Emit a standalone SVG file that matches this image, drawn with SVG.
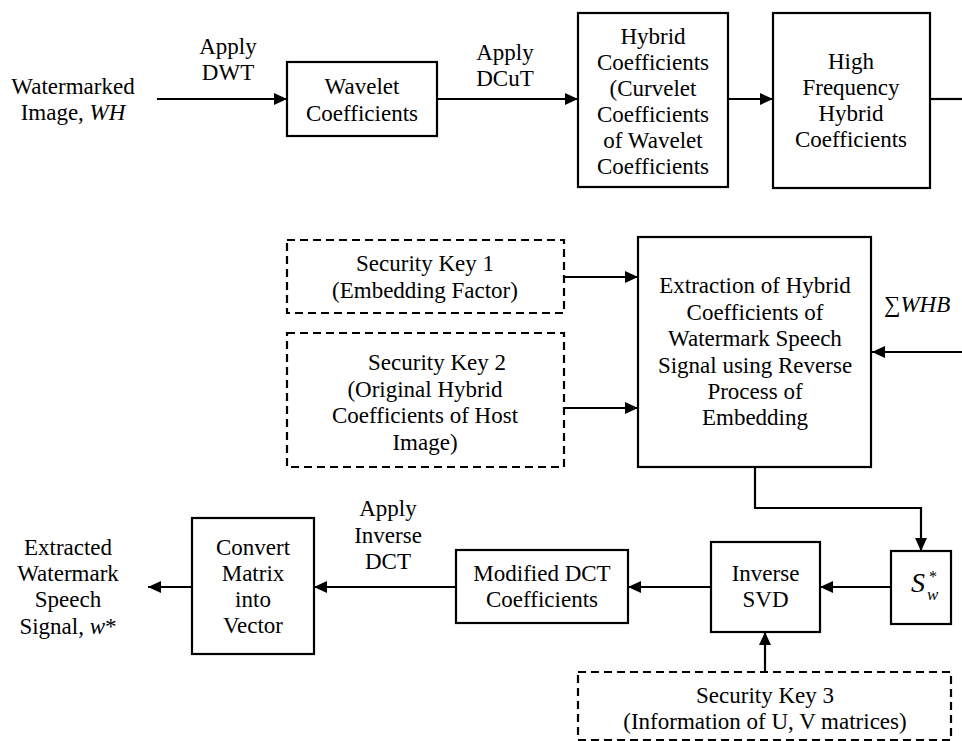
<svg xmlns="http://www.w3.org/2000/svg" width="962" height="741" viewBox="0 0 962 741" font-family="'Liberation Serif', Tinos, 'Times New Roman', Times, 'DejaVu Serif', serif">
<style>
  text { font-family: 'Liberation Serif', Tinos, 'Times New Roman', Times, 'DejaVu Serif', serif; font-size: 23px; fill: #000; text-anchor: middle; }
  .it { font-style: italic; }
  .box { fill: #fff; stroke: #000; stroke-width: 2.2; }
  .dash { fill: #fff; stroke: #000; stroke-width: 2.2; stroke-dasharray: 8 5; }
  .conn { fill: none; stroke: #000; stroke-width: 2.2; }
</style>
<defs>
  <marker id="arr" viewBox="0 0 13 12" refX="13" refY="6" markerWidth="13" markerHeight="12" markerUnits="userSpaceOnUse" orient="auto">
    <path d="M0,0 L13,6 L0,12 z" fill="#000"/>
  </marker>
</defs>
<rect width="962" height="741" fill="#fff"/>

<g id="connectors">
  <line class="conn" x1="157" y1="99" x2="287" y2="99" marker-end="url(#arr)"/>
  <line class="conn" x1="437" y1="99" x2="578" y2="99" marker-end="url(#arr)"/>
  <line class="conn" x1="728" y1="99" x2="773" y2="99" marker-end="url(#arr)"/>
  <line class="conn" x1="930" y1="99" x2="962" y2="99"/>
  <line class="conn" x1="564" y1="277" x2="638" y2="277" marker-end="url(#arr)"/>
  <line class="conn" x1="564" y1="408" x2="638" y2="408" marker-end="url(#arr)"/>
  <line class="conn" x1="962" y1="352" x2="872" y2="352" marker-end="url(#arr)"/>
  <polyline class="conn" points="755,467 755,508 921,508 921,551" marker-end="url(#arr)"/>
  <line class="conn" x1="891" y1="587" x2="820" y2="587" marker-end="url(#arr)"/>
  <line class="conn" x1="711" y1="587" x2="628" y2="587" marker-end="url(#arr)"/>
  <line class="conn" x1="456" y1="587" x2="314" y2="587" marker-end="url(#arr)"/>
  <line class="conn" x1="192" y1="587" x2="148" y2="587" marker-end="url(#arr)"/>
  <line class="conn" x1="765" y1="672" x2="765" y2="632" marker-end="url(#arr)"/>
</g>

<g id="labels">
  <text x="73" y="94">Watermarked</text>
  <text x="73" y="120">Image, <tspan class="it">WH</tspan></text>
  <text x="228" y="54">Apply</text>
  <text x="228" y="80">DWT</text>
  <text x="505" y="60">Apply</text>
  <text x="505" y="86">DCuT</text>
  <text x="884" y="312" style="text-anchor:start">∑<tspan class="it">WHB</tspan></text>
  <text x="388" y="516">Apply</text>
  <text x="388" y="543">Inverse</text>
  <text x="388" y="569">DCT</text>
  <text x="68" y="555">Extracted</text>
  <text x="68" y="581">Watermark</text>
  <text x="68" y="607">Speech</text>
  <text x="68" y="634">Signal, <tspan class="it">w</tspan>*</text>
</g>

<g id="wavelet">
  <rect class="box" x="287" y="62" width="150" height="74"/>
  <text x="362" y="94">Wavelet</text>
  <text x="362" y="121">Coefficients</text>
</g>

<g id="hybrid">
  <rect class="box" x="578" y="13" width="150" height="174"/>
  <text x="653" y="44">Hybrid</text>
  <text x="653" y="70">Coefficients</text>
  <text x="653" y="96">(Curvelet</text>
  <text x="653" y="122">Coefficients</text>
  <text x="653" y="148">of Wavelet</text>
  <text x="653" y="174">Coefficients</text>
</g>

<g id="highfreq">
  <rect class="box" x="773" y="13" width="157" height="175"/>
  <text x="851" y="69">High</text>
  <text x="851" y="95">Frequency</text>
  <text x="851" y="121">Hybrid</text>
  <text x="851" y="147">Coefficients</text>
</g>

<g id="key1">
  <rect class="dash" x="287" y="240" width="277" height="73"/>
  <text x="425" y="271">Security Key 1</text>
  <text x="425" y="298">(Embedding Factor)</text>
</g>

<g id="key2">
  <rect class="dash" x="287" y="333" width="277" height="134"/>
  <text x="437" y="370">Security Key 2</text>
  <text x="425" y="397">(Original Hybrid</text>
  <text x="425" y="423">Coefficients of Host</text>
  <text x="425" y="450">Image)</text>
</g>

<g id="extraction">
  <rect class="box" x="638" y="237" width="233" height="230"/>
  <text x="755" y="293">Extraction of Hybrid</text>
  <text x="755" y="320">Coefficients of</text>
  <text x="755" y="346">Watermark Speech</text>
  <text x="755" y="373">Signal using Reverse</text>
  <text x="755" y="399">Process of</text>
  <text x="755" y="425">Embedding</text>
</g>

<g id="sw">
  <rect class="box" x="891" y="551" width="60" height="73"/>
  <text class="it" x="911" y="592" style="font-size:28px;text-anchor:start">S</text>
  <text class="it" x="927" y="600" style="font-size:17px;text-anchor:start">w</text>
  <text x="929" y="582" style="font-size:16px;text-anchor:start">*</text>
</g>

<g id="inverse-svd">
  <rect class="box" x="711" y="542" width="109" height="90"/>
  <text x="765.5" y="581">Inverse</text>
  <text x="765.5" y="607">SVD</text>
</g>

<g id="modified-dct">
  <rect class="box" x="456" y="550" width="172" height="73"/>
  <text x="542" y="581">Modified DCT</text>
  <text x="542" y="607">Coefficients</text>
</g>

<g id="convert">
  <rect class="box" x="192" y="518" width="122" height="136"/>
  <text x="253" y="555">Convert</text>
  <text x="253" y="581">Matrix</text>
  <text x="253" y="607">into</text>
  <text x="253" y="633">Vector</text>
</g>

<g id="key3">
  <rect class="dash" x="578" y="672" width="373" height="68"/>
  <text x="765" y="703">Security Key 3</text>
  <text x="765" y="729">(Information of U, V matrices)</text>
</g>
</svg>
